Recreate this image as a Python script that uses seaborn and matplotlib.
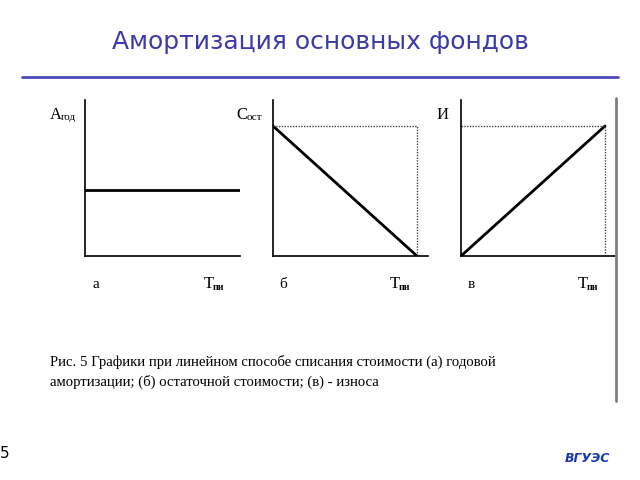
import seaborn as sns
import matplotlib.pyplot as plt
from matplotlib.lines import Line2D
import pandas as pd

sns.set_theme(style="white")
plt.rcParams["font.family"] = ["DejaVu Sans"]

# Data: straight-line depreciation over the useful life T (T = 1)
t_vals = [0.0, 1.0]
annual_dep = [0.51, 0.51]      # (а) годовая амортизация - constant
residual = [1.0, 0.0]          # (б) остаточная стоимость
wear = [0.0, 1.0]              # (в) износ
y_labels = ["А", "С", "И"]
y_subs = ["год", "ост", ""]
panel_letters = ["а", "б", "в"]
x_label_main = "Т"
x_label_sub = "пи"
title = "Амортизация основных фондов"
caption = ("Рис. 5 Графики при линейном способе списания стоимости (а) годовой\n"
           "амортизации; (б) остаточной стоимости; (в) - износа")

W, H = 640, 480
fig = plt.figure(figsize=(6.4, 4.8), dpi=100)
fig.patch.set_facecolor("white")

def fx(px):
    return px / W

def fy(py):
    return 1 - py / H

# Title and rule
fig.text(0.5, fy(42), title, ha="center", va="center", fontsize=18, color="#3a3aa8")
fig.add_artist(Line2D([fx(22), fx(618)], [fy(77), fy(77)], color="#4a4ab8", lw=2,
                      transform=fig.transFigure))

# panels: (left px, right px, x max, series, dotted guides)
panels = [
    (85, 240, 1.0, annual_dep, False),
    (273, 428, 155 / 144, residual, True),
    (461, 616, 155 / 144, wear, True),
]
label_x = [50, 236, 437]
letter_x = [96, 283, 471]
t_x = [204, 390, 578]

y_top, y_bot = 100, 256
for i, (l, r, xmax, vals, guides) in enumerate(panels):
    ax = fig.add_axes([fx(l), fy(y_bot), (r - l) / W, (y_bot - y_top) / H])
    ax.set_facecolor("none")
    df = pd.DataFrame({"t": t_vals, "v": vals})
    sns.lineplot(data=df, x="t", y="v", ax=ax, color="black", lw=2)
    ax.set_xlim(0, xmax)
    ax.set_ylim(0, 1.2)
    if guides:
        ax.plot([0, 1, 1], [1, 1, 0], color="#444444", lw=1.0, ls=(0, (1, 1)))
    for s in ["top", "right"]:
        ax.spines[s].set_visible(False)
    for s in ["left", "bottom"]:
        ax.spines[s].set_color("black")
        ax.spines[s].set_linewidth(1.2)
    ax.set_xticks([])
    ax.set_yticks([])
    ax.set_xlabel("")
    ax.set_ylabel("")

    # axis labels in serif
    fig.text(fx(label_x[i]), fy(115), y_labels[i], family="Liberation Serif",
             fontsize=12, ha="left", va="center", color="black")
    if y_subs[i]:
        fig.text(fx(label_x[i] + 11), fy(118), y_subs[i], family="Liberation Serif",
                 fontsize=8, ha="left", va="center", color="black")
    fig.text(fx(letter_x[i]), fy(284), panel_letters[i], family="Liberation Serif",
             fontsize=11, ha="center", va="center", color="black")
    fig.text(fx(t_x[i]), fy(284), x_label_main, family="Liberation Serif",
             fontsize=12, ha="left", va="center", color="black")
    fig.text(fx(t_x[i] + 9), fy(287), x_label_sub, family="Liberation Serif",
             fontsize=7, ha="left", va="center", color="black", fontweight="bold")

# gray border line on the right
fig.add_artist(Line2D([fx(616), fx(616)], [fy(98), fy(401)], color="#808080", lw=2,
                      transform=fig.transFigure))

# caption
fig.text(fx(50), fy(372), caption, family="Liberation Serif", fontsize=10.6,
         ha="left", va="center", color="black", linespacing=1.5)

# page number and logo
fig.text(fx(0), fy(453), "5", fontsize=11, ha="left", va="center", color="black")
fig.text(fx(565), fy(458), "ВГУЭС", fontsize=9, ha="left", va="center",
         color="#1a3ab0", fontstyle="italic", fontweight="bold")

fig.savefig("out.png", dpi=100)
